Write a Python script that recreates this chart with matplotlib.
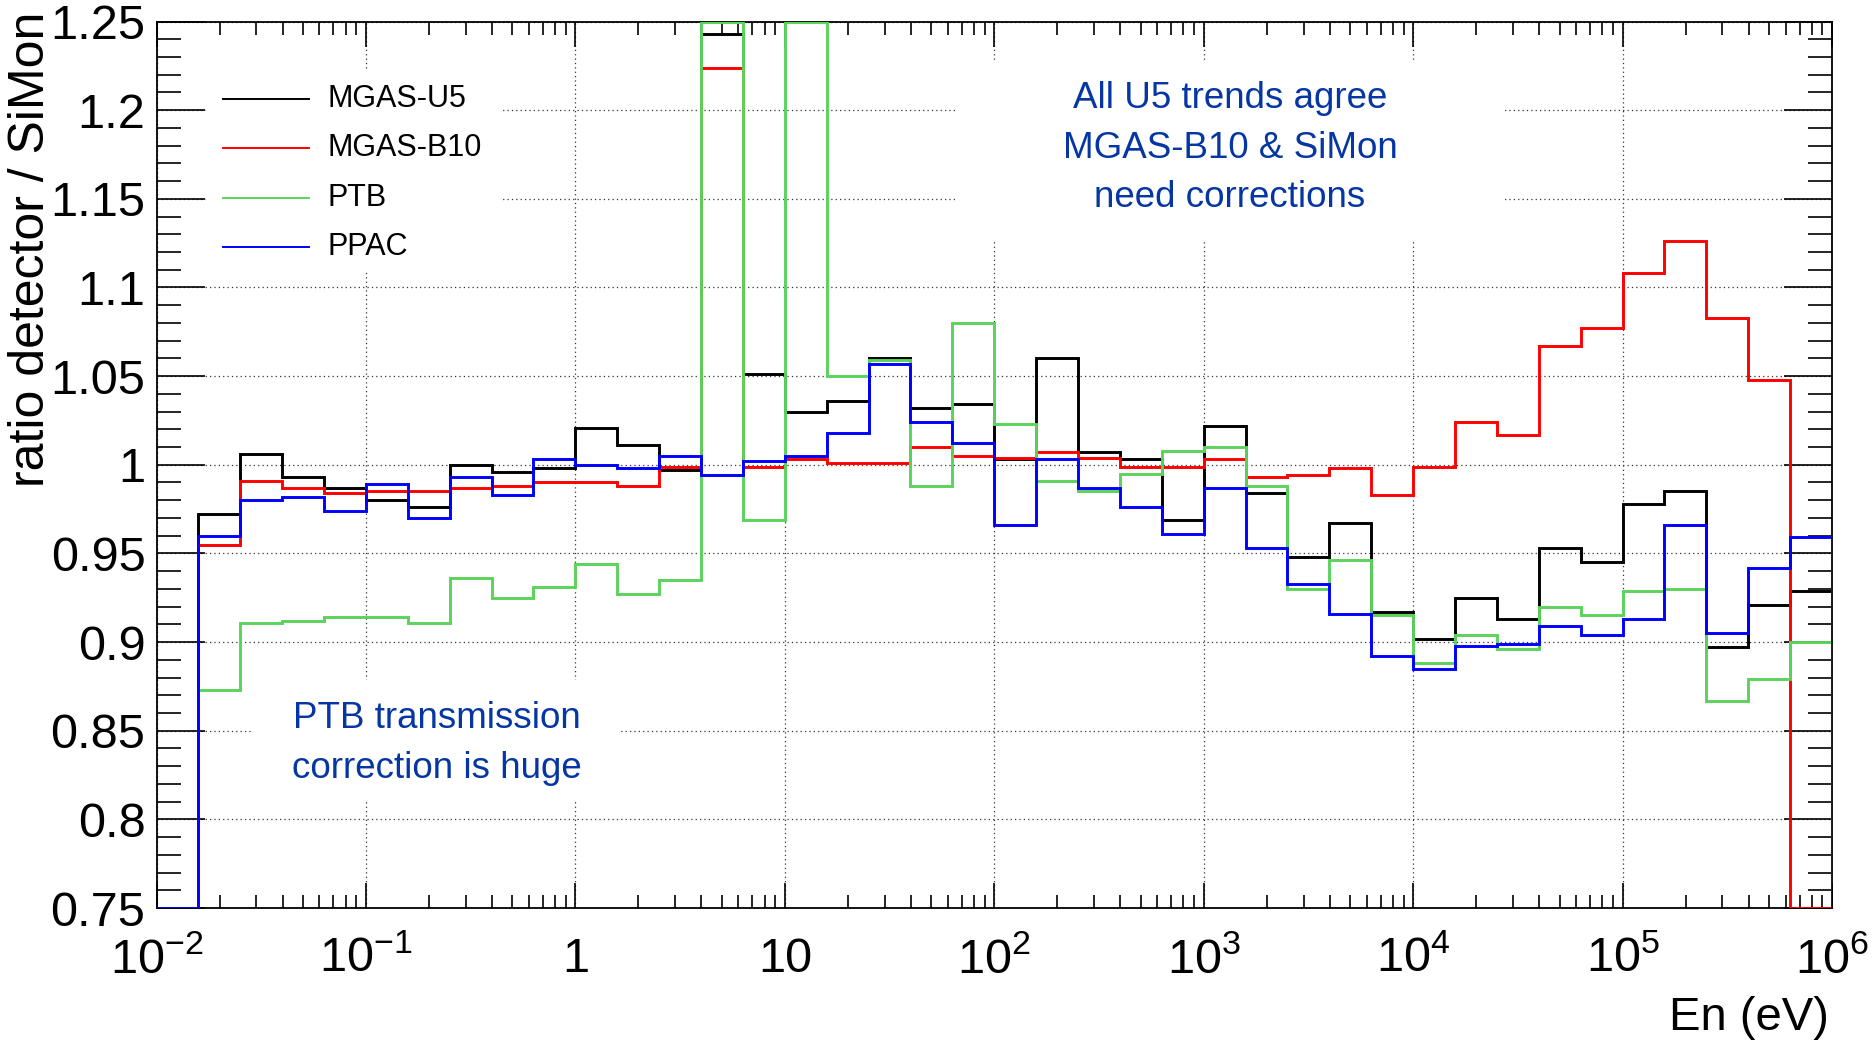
import numpy as np
import matplotlib
matplotlib.use("Agg")
import matplotlib.pyplot as plt
from matplotlib.lines import Line2D
from matplotlib.patches import Rectangle
from matplotlib.ticker import LogLocator, MultipleLocator, NullFormatter, FuncFormatter

plt.rcParams["font.family"] = ["Liberation Sans", "DejaVu Sans"]
plt.rcParams["mathtext.fontset"] = "custom"
plt.rcParams["mathtext.rm"] = "Liberation Sans"
plt.rcParams["mathtext.it"] = "Liberation Sans"

# --------------------------------------------------
# data: 40 bins, 5 per decade from 1e-2 to 1e6 eV
# (0 = empty bin, values > 1.25 are off-scale)
# --------------------------------------------------
bin_edges = np.logspace(-2, 6, 41)

mgas_u5 = [0.0, 0.972, 1.006, 0.993, 0.987, 0.980, 0.976, 1.000, 0.996, 0.998,
           1.021, 1.011, 0.997, 1.243, 1.051, 1.030, 1.036, 1.060, 1.032, 1.034,
           1.003, 1.060, 1.007, 1.003, 0.969, 1.022, 0.984, 0.948, 0.967, 0.917,
           0.902, 0.925, 0.913, 0.953, 0.945, 0.978, 0.985, 0.897, 0.921, 0.929]
mgas_b10 = [0.0, 0.955, 0.991, 0.987, 0.984, 0.985, 0.985, 0.987, 0.988, 0.990,
            0.990, 0.988, 0.999, 1.224, 0.999, 1.003, 1.001, 1.001, 1.010, 1.005,
            1.004, 1.007, 1.004, 0.999, 0.999, 1.003, 0.993, 0.994, 0.998, 0.983,
            0.999, 1.024, 1.017, 1.067, 1.077, 1.108, 1.126, 1.083, 1.048, 0.0]
ptb = [0.0, 0.873, 0.911, 0.912, 0.914, 0.914, 0.911, 0.936, 0.925, 0.931,
       0.944, 0.927, 0.935, 1.300, 0.969, 1.300, 1.050, 1.059, 0.988, 1.080,
       1.023, 0.991, 0.985, 0.995, 1.008, 1.010, 0.988, 0.930, 0.946, 0.915,
       0.888, 0.904, 0.896, 0.920, 0.915, 0.929, 0.930, 0.867, 0.879, 0.900]
ppac = [0.0, 0.960, 0.980, 0.982, 0.974, 0.989, 0.970, 0.993, 0.983, 1.003,
        1.000, 0.998, 1.005, 0.994, 1.002, 1.005, 1.018, 1.057, 1.024, 1.012,
        0.966, 1.003, 0.987, 0.976, 0.961, 0.987, 0.953, 0.933, 0.916, 0.892,
        0.885, 0.898, 0.899, 0.909, 0.904, 0.913, 0.966, 0.905, 0.942, 0.959]

series = [
    ("MGAS-U5", mgas_u5, "black"),
    ("MGAS-B10", mgas_b10, "#ff0000"),
    ("PTB", ptb, "#5ad35a"),
    ("PPAC", ppac, "#0000ff"),
]

Y_MIN, Y_MAX = 0.75, 1.25
W, H = 1873, 1044
TEXT_BLUE = "#0536a3"


def fx(px):
    return px / W


def fy(py):
    return 1 - py / H


# --------------------------------------------------
# figure / axes
# --------------------------------------------------
fig = plt.figure(figsize=(W / 100, H / 100), dpi=100)
ax = fig.add_axes([fx(156.5), fy(908), fx(1832) - fx(156.5), fy(21.5) - fy(908)])

for name, vals, col in series:
    # root draws off-scale bins along the frame
    ax.stairs(np.clip(vals, Y_MIN, Y_MAX), bin_edges, color=col, lw=2.1, zorder=3)

ax.set_xscale("log")
ax.set_xlim(1e-2, 1e6)
ax.set_ylim(Y_MIN, Y_MAX)

ax.xaxis.set_major_locator(LogLocator(base=10, numticks=20))
ax.xaxis.set_minor_locator(LogLocator(base=10, subs=np.arange(2, 10), numticks=200))
ax.xaxis.set_minor_formatter(NullFormatter())


def xlab(v, pos):
    e = int(round(np.log10(v)))
    if e == 0:
        return "1"
    if e == 1:
        return "10"
    return r"$10^{%d}$" % e


ax.xaxis.set_major_formatter(FuncFormatter(xlab))
ax.yaxis.set_major_locator(MultipleLocator(0.05))
ax.yaxis.set_minor_locator(MultipleLocator(0.01))
ax.yaxis.set_major_formatter(FuncFormatter(lambda v, p: "%g" % round(v, 3)))

ax.tick_params(which="both", direction="in", top=True, right=True, width=1.2)
ax.tick_params(axis="x", which="major", length=18, labelsize=35, pad=21)
ax.tick_params(axis="x", which="minor", length=9.5)
ax.tick_params(axis="y", which="major", length=34.5, labelsize=35, pad=8)
ax.tick_params(axis="y", which="minor", length=17.5)
for s in ax.spines.values():
    s.set_linewidth(1.3)

ax.set_axisbelow(True)
ax.grid(True, which="major", linestyle=(0, (1, 2.5)), color="#333333", lw=0.9)

# white boxes of legend / texts hide the grid (root style)
for x0, y0, x1, y1 in [(206, 70, 500, 272), (955, 62, 1505, 242), (253, 680, 621, 800)]:
    fig.add_artist(Rectangle((fx(x0), fy(y1)), fx(x1) - fx(x0), fy(y0) - fy(y1),
                             transform=fig.transFigure, facecolor="white",
                             edgecolor="none", zorder=1.5))

# --------------------------------------------------
# legend (drawn by hand)
# --------------------------------------------------
for i, (name, vals, col) in enumerate(series):
    yy = 99 + 49.3 * i
    fig.add_artist(Line2D([fx(223), fx(309)], [fy(yy), fy(yy)], color=col, lw=1.4,
                          transform=fig.transFigure))
    fig.text(fx(328), fy(yy), name, fontsize=22, ha="left", va="center")

# --------------------------------------------------
# texts
# --------------------------------------------------
for i, line in enumerate(["All U5 trends agree", "MGAS-B10 & SiMon", "need corrections"]):
    fig.text(fx(1230), fy(108 + 49.5 * i), line, fontsize=26.5, color=TEXT_BLUE,
             ha="center", va="baseline")
for i, line in enumerate(["PTB transmission", "correction is huge"]):
    fig.text(fx(437), fy(728 + 49.5 * i), line, fontsize=26.5, color=TEXT_BLUE,
             ha="center", va="baseline")

fig.text(fx(1829), fy(1030), "En (eV)", fontsize=34, ha="right", va="baseline")
fig.text(fx(31), fy(12), "ratio detector / SiMon", fontsize=36, rotation=90,
         ha="center", va="top")

fig.savefig("out.png", dpi=100)
